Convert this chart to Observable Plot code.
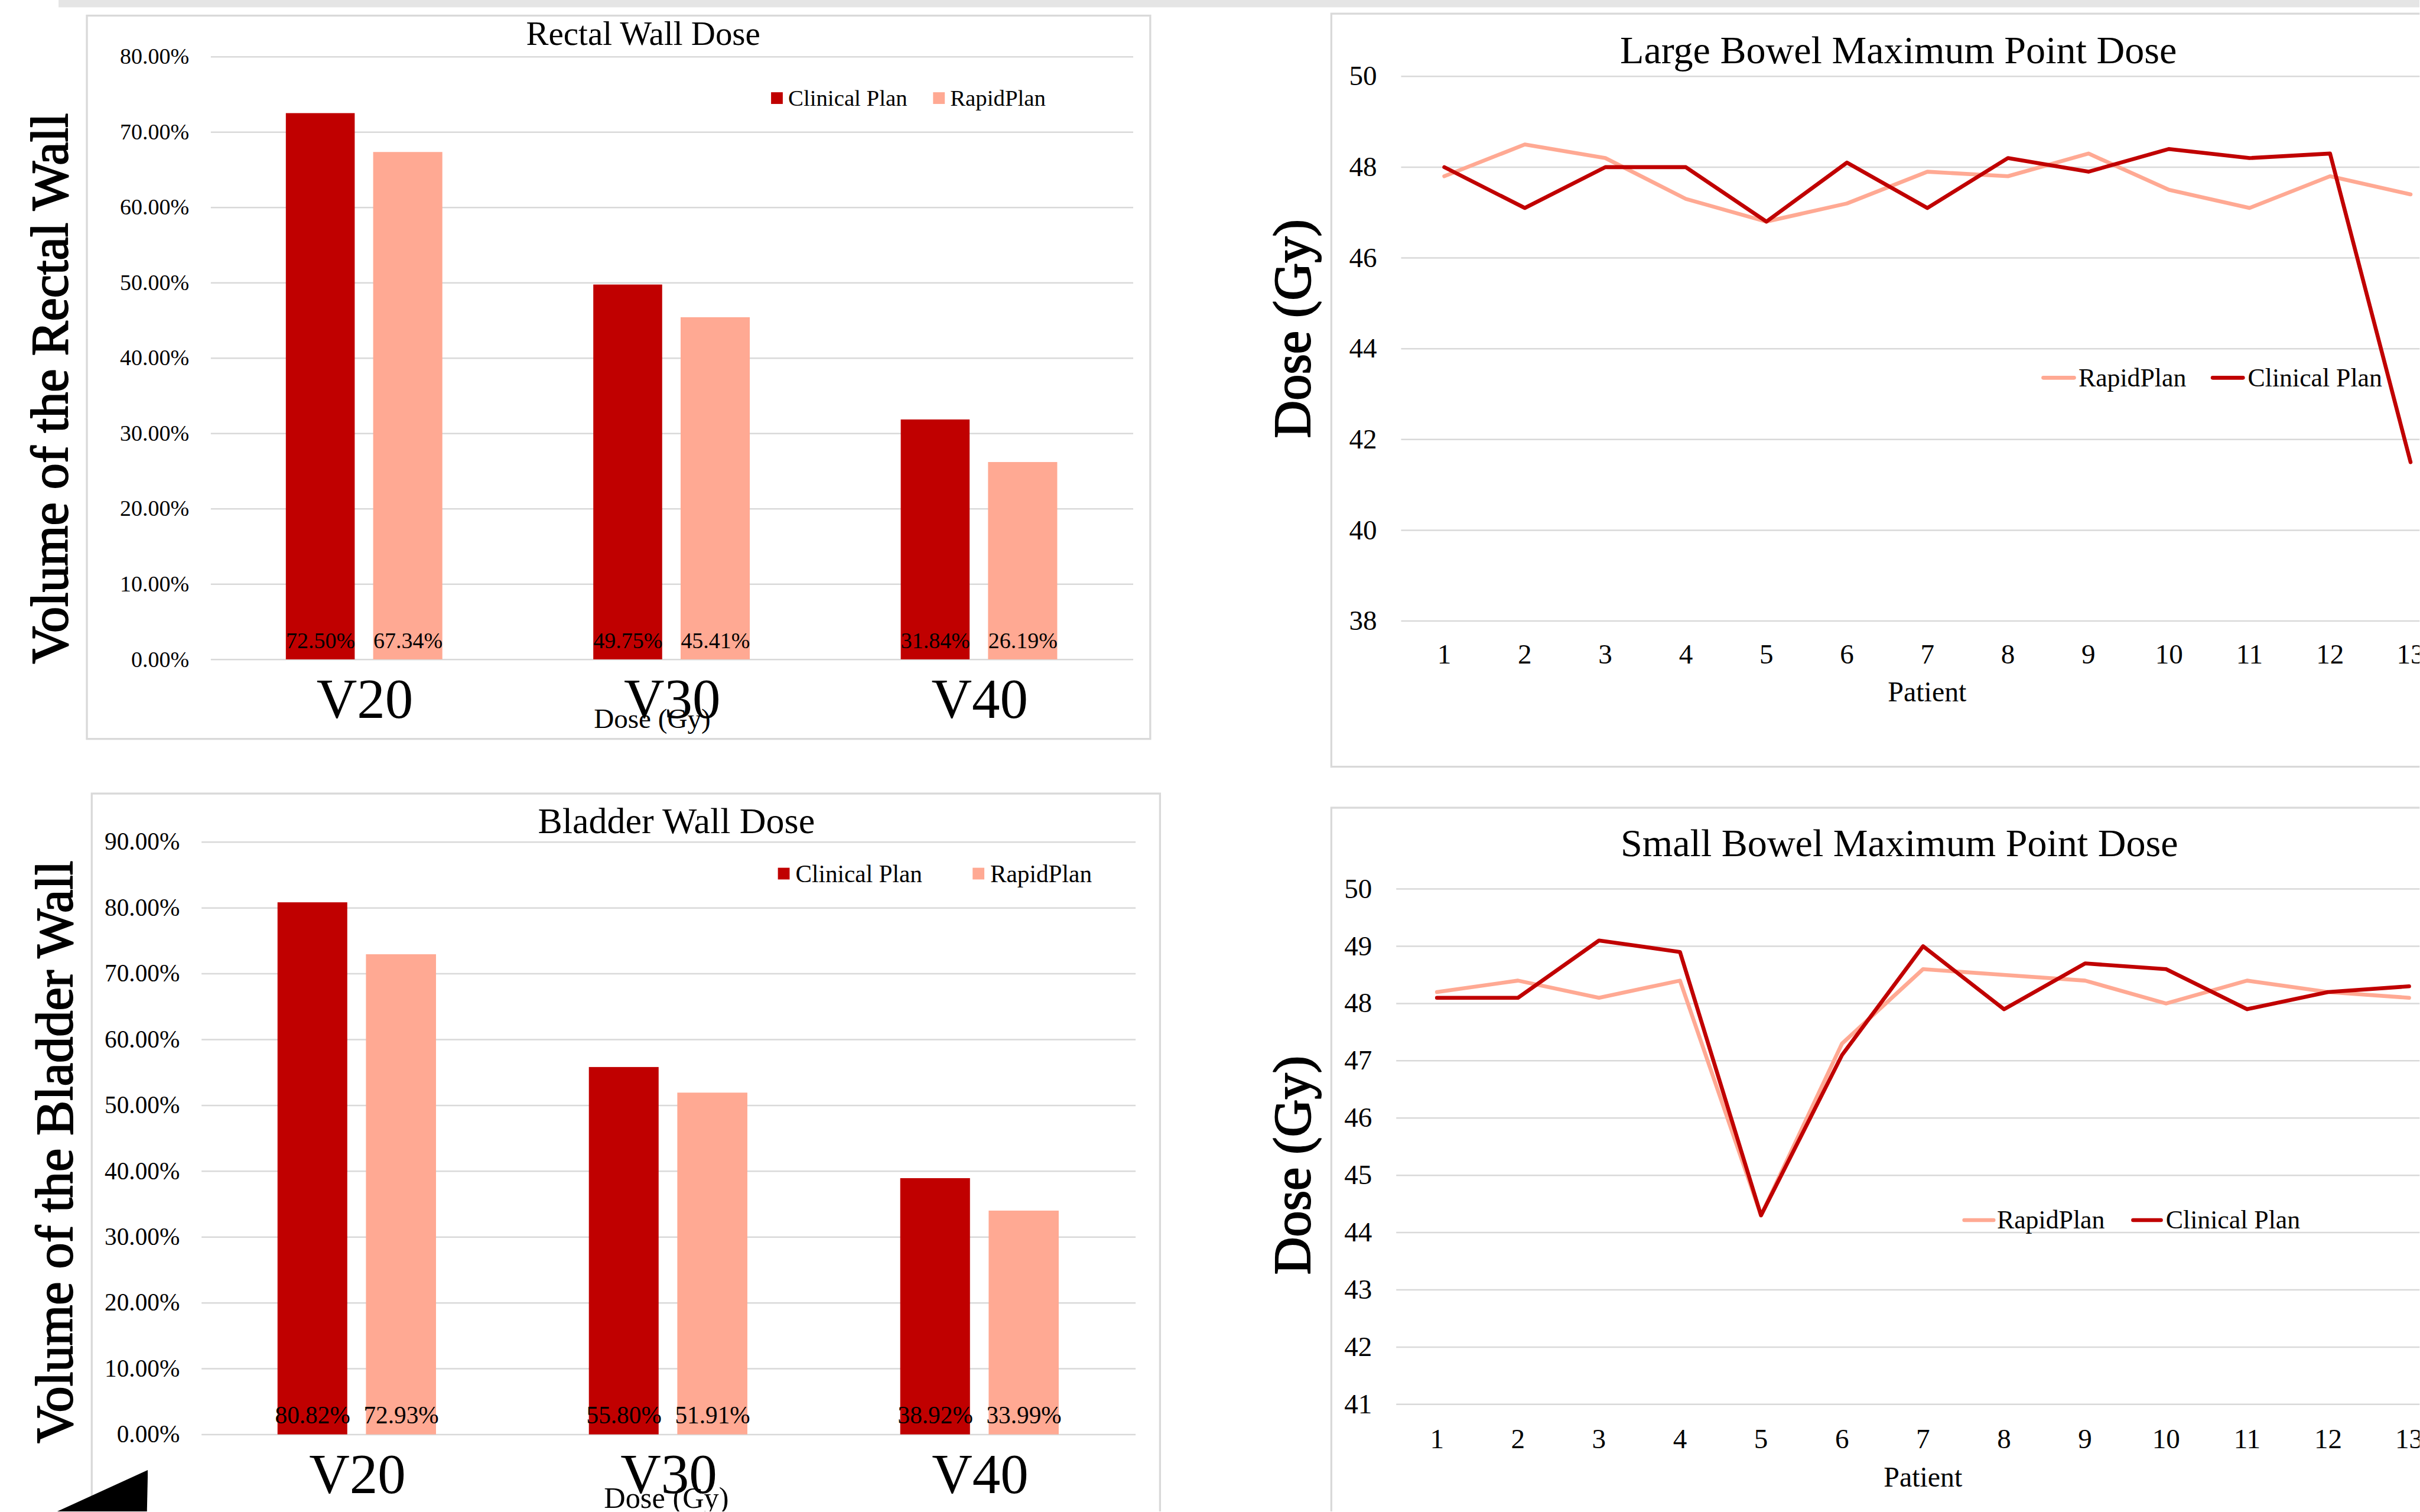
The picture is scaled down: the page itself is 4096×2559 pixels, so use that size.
<!DOCTYPE html>
<html>
<head>
<meta charset="utf-8">
<script src="https://cdn.jsdelivr.net/npm/d3@7"></script>
<script src="https://cdn.jsdelivr.net/npm/@observablehq/plot@0.6"></script>
<style>
html, body { margin: 0; padding: 0; background: #fff; overflow: hidden; width: 4096px; height: 2559px; }
#wrap { position: absolute; left: 0; top: 0; width: 4958px; height: 3097px; transform: scale(0.826); transform-origin: 0 0;
        font-family: "Liberation Serif", "Times New Roman", serif; color: #000; overflow: hidden; }
.panel { position: absolute; border: 4px solid #d9d9d9; box-sizing: border-box; background: #fff; }
.title { position: absolute; white-space: nowrap; transform: translate(-50%, -50%); line-height: 1; }
.legtext { position: absolute; white-space: nowrap; transform: translateY(-50%); line-height: 1; }
.sw { position: absolute; }
</style>
</head>
<body>
<div id="wrap"></div>
<script>
// ---------------- data ----------------
const doseLevels = ["V20", "V30", "V40"];
const rectalClinical = [0.7250, 0.4975, 0.3184];
const rectalRapid    = [0.6734, 0.4541, 0.2619];
const bladderClinical = [0.8082, 0.5580, 0.3892];
const bladderRapid    = [0.7293, 0.5191, 0.3399];
const rectalTicks  = [0, 0.1, 0.2, 0.3, 0.4, 0.5, 0.6, 0.7, 0.8];
const bladderTicks = [0, 0.1, 0.2, 0.3, 0.4, 0.5, 0.6, 0.7, 0.8, 0.9];

const patients = [1, 2, 3, 4, 5, 6, 7, 8, 9, 10, 11, 12, 13];
const largeBowelRapid    = [47.8, 48.5, 48.2, 47.3, 46.8, 47.2, 47.9, 47.8, 48.3, 47.5, 47.1, 47.8, 47.4];
const largeBowelClinical = [48.0, 47.1, 48.0, 48.0, 46.8, 48.1, 47.1, 48.2, 47.9, 48.4, 48.2, 48.3, 41.5];
const smallBowelRapid    = [48.2, 48.4, 48.1, 48.4, 44.3, 47.3, 48.6, 48.5, 48.4, 48.0, 48.4, 48.2, 48.1];
const smallBowelClinical = [48.1, 48.1, 49.1, 48.9, 44.3, 47.1, 49.0, 47.9, 48.7, 48.6, 47.9, 48.2, 48.3];
const largeBowelTicks = [38, 40, 42, 44, 46, 48, 50];
const smallBowelTicks = [41, 42, 43, 44, 45, 46, 47, 48, 49, 50];

const seriesNames = ["Clinical Plan", "RapidPlan"];
const CLIN = "#C00000";
const RAP = "#FFA993";
const FONT = "Liberation Serif, Times New Roman, serif";
const GRID = "#d9d9d9";

const wrap = document.getElementById("wrap");
function el(cls, css, text) {
  const d = document.createElement("div");
  if (cls) d.className = cls;
  Object.assign(d.style, css);
  if (text != null) d.textContent = text;
  wrap.appendChild(d);
  return d;
}
function place(svg, left, top) {
  svg.style.position = "absolute";
  svg.style.left = left + "px";
  svg.style.top = top + "px";
  wrap.appendChild(svg);
}

// decorations
el(null, {position: "absolute", left: "120px", top: "0px", width: "4838px", height: "15px", background: "#e5e5e5"});
el("panel", {left: "176px", top: "30px", width: "2183px", height: "1486px"});
el("panel", {left: "186px", top: "1624px", width: "2193px", height: "1600px"});
el("panel", {left: "2726px", top: "26px", width: "2400px", height: "1547px"});
el("panel", {left: "2726px", top: "1653px", width: "2400px", height: "1600px"});
el(null, {position: "absolute", left: "117px", top: "3012px", width: "186px", height: "85px", background: "#000",
          clipPath: "polygon(0% 100%, 100% 0%, 99% 100%)"});

const pct = d3.format(".2%");
const intFmt = d3.format("d");

function barChart(o) {
  const rows = [];
  doseLevels.forEach((d, i) => {
    rows.push({dose: d, plan: seriesNames[0], v: o.clin[i]});
    rows.push({dose: d, plan: seriesNames[1], v: o.rapid[i]});
  });
  const cl = rows.filter(r => r.plan === seriesNames[0]);
  const rp = rows.filter(r => r.plan === seriesNames[1]);
  const band = (o.width - o.mL - o.mR) / doseLevels.length;
  const svg = Plot.plot({
    width: o.width, height: o.height,
    marginLeft: o.mL, marginRight: o.mR, marginTop: o.mT, marginBottom: o.mB,
    style: {background: "transparent", fontFamily: FONT, color: "#000", overflow: "visible"},
    x: {domain: doseLevels, padding: 0},
    y: {domain: [0, o.ticks[o.ticks.length - 1]]},
    marks: [
      Plot.gridY(o.ticks, {stroke: GRID, strokeOpacity: 1, strokeWidth: 3}),
      Plot.barY(cl, {x: "dose", y: "v", fill: CLIN, insetLeft: band * 0.244, insetRight: band * (1 - 0.468)}),
      Plot.barY(rp, {x: "dose", y: "v", fill: RAP, insetLeft: band * 0.528, insetRight: band * (1 - 0.753)}),
      Plot.text(cl, {x: "dose", y: () => 0, text: d => pct(d.v), dx: -0.144 * band, dy: -o.vlDy, fontSize: o.small, fill: "#000", lineAnchor: "middle"}),
      Plot.text(rp, {x: "dose", y: () => 0, text: d => pct(d.v), dx: 0.1405 * band, dy: -o.vlDy, fontSize: o.small, fill: "#000", lineAnchor: "middle"}),
      Plot.axisY(o.ticks, {tickSize: 0, tickPadding: 45, tickFormat: pct, fontSize: o.small, label: null}),
      Plot.axisX({tickSize: 0, tickPadding: 38, fontSize: 115, label: null}),
      Plot.text([o.yTitle], {frameAnchor: "left", text: d => d, rotate: -90, dx: o.ytDx, dy: o.ytDy, fontSize: 107,
                             textAnchor: "middle", lineAnchor: "middle", fill: "#000", stroke: "#000", strokeWidth: 2.5}),
      Plot.text(["Dose (Gy)"], {frameAnchor: "bottom", text: d => d, dx: o.dDx, dy: o.dDy, fontSize: o.doseFont,
                                textAnchor: "middle", lineAnchor: "middle", fill: "#000"})
    ]
  });
  place(svg, o.left, o.top);
  el("title", {left: o.tx + "px", top: o.ty + "px", fontSize: o.titleFont + "px"}, o.title);
  o.legend.forEach((it, i) => {
    el("sw", {left: it.sx + "px", top: (o.ly - 12) + "px", width: "24px", height: "24px", background: i === 0 ? CLIN : RAP});
    el("legtext", {left: it.tx + "px", top: o.ly + "px", fontSize: o.legFont + "px"}, seriesNames[i]);
  });
}

function lineChart(o) {
  const rr = patients.map((p, i) => ({p, v: o.rapid[i]}));
  const cc = patients.map((p, i) => ({p, v: o.clin[i]}));
  const svg = Plot.plot({
    width: o.width, height: o.height,
    marginLeft: o.mL, marginRight: o.mR, marginTop: o.mT, marginBottom: o.mB,
    style: {background: "transparent", fontFamily: FONT, color: "#000", overflow: "visible"},
    x: {type: "point", domain: patients, padding: 0.5},
    y: {domain: [o.ticks[0], o.ticks[o.ticks.length - 1]]},
    marks: [
      Plot.gridY(o.ticks, {stroke: GRID, strokeOpacity: 1, strokeWidth: 3}),
      Plot.lineY(rr, {x: "p", y: "v", stroke: RAP, strokeWidth: 8}),
      Plot.lineY(cc, {x: "p", y: "v", stroke: CLIN, strokeWidth: 8}),
      Plot.axisY(o.ticks, {tickSize: 0, tickPadding: 50, fontSize: 57, tickFormat: intFmt, label: null}),
      Plot.axisX({tickSize: 0, tickPadding: o.xPad, fontSize: 57, tickFormat: intFmt, label: null}),
      Plot.text(["Dose (Gy)"], {frameAnchor: "left", text: d => d, rotate: -90, dx: o.ytDx, dy: o.ytDy, fontSize: 107,
                                textAnchor: "middle", lineAnchor: "middle", fill: "#000", stroke: "#000", strokeWidth: 2.5}),
      Plot.text(["Patient"], {frameAnchor: "bottom", text: d => d, dy: o.pDy, fontSize: 58,
                              textAnchor: "middle", lineAnchor: "middle", fill: "#000"})
    ]
  });
  place(svg, o.left, o.top);
  el("title", {left: o.tx + "px", top: o.ty + "px", fontSize: "80px"}, o.title);
  // legend order: RapidPlan then Clinical Plan
  o.legend.forEach((it, i) => {
    const name = i === 0 ? seriesNames[1] : seriesNames[0];
    el("sw", {left: it.sx + "px", top: (o.ly - 4) + "px", width: it.w + "px", height: "8px", borderRadius: "4px",
              background: i === 0 ? RAP : CLIN});
    el("legtext", {left: it.tx + "px", top: o.ly + "px", fontSize: "53px"}, name);
  });
}

barChart({
  clin: rectalClinical, rapid: rectalRapid, ticks: rectalTicks,
  left: 0, top: 30, width: 2358, height: 1484, mL: 432, mR: 36, mT: 86, mB: 163,
  yTitle: "Volume of the Rectal Wall", ytDx: -329, ytDy: 62,
  dDx: -41, dDy: 122, doseFont: 57, small: 46, vlDy: 38,
  title: "Rectal Wall Dose", tx: 1318, ty: 70, titleFont: 69,
  legend: [{sx: 1580, tx: 1615}, {sx: 1912, tx: 1947}], ly: 201, legFont: 47
});

barChart({
  clin: bladderClinical, rapid: bladderRapid, ticks: bladderTicks,
  left: 0, top: 1626, width: 2378, height: 1471, mL: 413, mR: 51, mT: 99, mB: 158,
  yTitle: "Volume of the Bladder Wall", ytDx: -300, ytDy: 28,
  dDx: -5, dDy: 130, doseFont: 61, small: 50, vlDy: 39,
  title: "Bladder Wall Dose", tx: 1386, ty: 1681, titleFont: 75,
  legend: [{sx: 1594, tx: 1630}, {sx: 1993, tx: 2029}], ly: 1790, legFont: 50
});

lineChart({
  rapid: largeBowelRapid, clin: largeBowelClinical, ticks: largeBowelTicks,
  left: 2560, top: 28, width: 2492, height: 1543, mL: 311, mR: 26, mT: 128, mB: 299,
  ytDx: -222, ytDy: -41, xPad: 46, pDy: 146,
  title: "Large Bowel Maximum Point Dose", tx: 3890, ty: 102,
  legend: [{sx: 4183, w: 71, tx: 4259}, {sx: 4530, w: 70, tx: 4606}], ly: 774
});

lineChart({
  rapid: smallBowelRapid, clin: smallBowelClinical, ticks: smallBowelTicks,
  left: 2560, top: 1655, width: 2492, height: 1442, mL: 301, mR: 33, mT: 166, mB: 220,
  ytDx: -212, ytDy: 38, xPad: 49, pDy: 150,
  title: "Small Bowel Maximum Point Dose", tx: 3892, ty: 1727,
  legend: [{sx: 4021, w: 68, tx: 4092}, {sx: 4367, w: 65, tx: 4438}], ly: 2500
});
</script>
</body>
</html>
